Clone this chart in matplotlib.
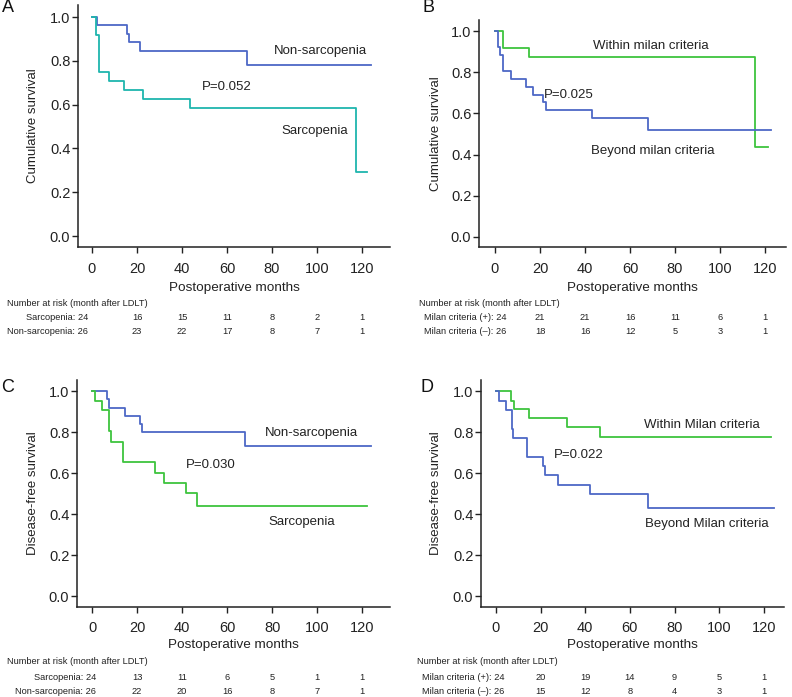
import matplotlib
matplotlib.use("Agg")
import matplotlib.pyplot as plt
import matplotlib.transforms as mtransforms

plt.rcParams["font.family"] = ["Liberation Sans", "DejaVu Sans"]

W, H = 792, 697

BLUE = "#4d68c6"
TEAL = "#1fb5ae"
GREEN = "#3ec43e"

# Kaplan-Meier step curves, (month, survival)
a_non_t = [0, 2.1, 15.4, 16.6, 21.3, 68.7, 123.9]
a_non_s = [1.0, 0.962, 0.923, 0.885, 0.846, 0.782, 0.782]
a_sar_t = [0, 1.6, 3.3, 7.7, 14.2, 22.8, 43.6, 117.2, 122.4]
a_sar_s = [1.0, 0.917, 0.75, 0.708, 0.667, 0.625, 0.583, 0.292, 0.292]

b_within_t = [0, 3.4, 15.3, 115.7, 121.2]
b_within_s = [1.0, 0.917, 0.875, 0.438, 0.438]
b_beyond_t = [0, 1.3, 2.2, 3.4, 7.1, 13.8, 16.7, 21.2, 22.7, 43.0, 68.1, 122.7]
b_beyond_s = [1.0, 0.923, 0.885, 0.808, 0.769, 0.731, 0.692, 0.654, 0.615, 0.577, 0.52, 0.52]

c_non_t = [0, 6.5, 7.4, 14.8, 21.3, 22.2, 68.0, 123.9]
c_non_s = [1.0, 0.96, 0.92, 0.88, 0.84, 0.80, 0.733, 0.733]
c_sar_t = [0, 1.3, 4.3, 7.4, 8.3, 13.6, 28.0, 32.0, 41.6, 46.5, 122.4]
c_sar_s = [1.0, 0.955, 0.909, 0.808, 0.755, 0.653, 0.601, 0.552, 0.502, 0.442, 0.442]

d_within_t = [0, 6.6, 8.3, 14.9, 32.0, 46.5, 123.2]
d_within_s = [1.0, 0.955, 0.913, 0.870, 0.826, 0.779, 0.779]
d_beyond_t = [0, 1.2, 4.5, 7.2, 7.8, 13.7, 20.9, 22.1, 28.0, 42.0, 68.1, 124.4]
d_beyond_s = [1.0, 0.955, 0.909, 0.818, 0.773, 0.682, 0.636, 0.591, 0.545, 0.50, 0.433, 0.433]

# number at risk tables
risk_months = [20, 40, 60, 80, 100, 120]
a_risk = {"Sarcopenia: 24": [16, 15, 11, 8, 2, 1],
          "Non-sarcopenia: 26": [23, 22, 17, 8, 7, 1]}
b_risk = {"Milan criteria (+): 24": [21, 21, 16, 11, 6, 1],
          "Milan criteria (\u2013): 26": [18, 16, 12, 5, 3, 1]}
c_risk = {"Sarcopenia: 24": [13, 11, 6, 5, 1, 1],
          "Non-sarcopenia: 26": [22, 20, 16, 8, 7, 1]}
d_risk = {"Milan criteria (+): 24": [20, 19, 14, 9, 5, 1],
          "Milan criteria (\u2013): 26": [15, 12, 8, 4, 3, 1]}


def fx(x):
    return x / W


def fy(y):
    return 1 - y / H


def make_axes(fig, left, right, top, bottom, xlim):
    ax = fig.add_axes([fx(left), fy(bottom), fx(right - left), (bottom - top) / H])
    ax.set_xlim(*xlim)
    ax.set_ylim(-0.05, 1.055)
    for s in ["top", "right"]:
        ax.spines[s].set_visible(False)
    for s in ["left", "bottom"]:
        ax.spines[s].set_linewidth(1.1)
        ax.spines[s].set_color("#222222")
    ax.set_xticks([0, 20, 40, 60, 80, 100, 120])
    ax.set_yticks([0.0, 0.2, 0.4, 0.6, 0.8, 1.0])
    ax.set_yticklabels(["0.0", "0.2", "0.4", "0.6", "0.8", "1.0"])
    ax.tick_params(axis="x", length=4.5, width=1, pad=6, labelsize=10.5, colors="#222222")
    ax.tick_params(axis="y", length=4, width=1, pad=1.5, labelsize=10.5, colors="#222222")
    return ax


def draw_panel(fig, ax, curves, labels, ylabel, letter, letter_xy, ylabel_x,
               xlabel_y, risk, risk_xy, row_align):
    for t, s, c in curves:
        ax.step(t, s, where="post", color=c, lw=1.3)
    for txt, x, y in labels:
        ax.text(x, y, txt, ha="center", va="center", fontsize=9.5, color="#222222")

    pos = ax.get_position()
    fig.text(fx(ylabel_x), (pos.y0 + pos.y1) / 2, ylabel, rotation=90,
             ha="center", va="center", fontsize=9.5, color="#222222")
    fig.text((pos.x0 + pos.x1) / 2, fy(xlabel_y), "Postoperative months",
             ha="center", va="center", fontsize=9.7, color="#222222")
    fig.text(fx(letter_xy[0]), fy(letter_xy[1]), letter, ha="center", va="center",
             fontsize=13, color="#111111")

    hx, hy, row_x, row_y0, row_dy = risk_xy
    fig.text(fx(hx), fy(hy), "Number at risk (month after LDLT)", ha="left",
             va="center", fontsize=6.7, color="#222222")
    trans = mtransforms.blended_transform_factory(ax.transData, fig.transFigure)
    for i, (name, vals) in enumerate(risk.items()):
        y = fy(row_y0 + i * row_dy)
        fig.text(fx(row_x), y, name, ha=row_align, va="center", fontsize=6.7,
                 color="#222222")
        for m, v in zip(risk_months, vals):
            ax.text(m, y, str(v), transform=trans, ha="center", va="center",
                    fontsize=6.7, color="#222222", clip_on=False)


fig = plt.figure(figsize=(W / 100, H / 100), dpi=100)

ax_a = make_axes(fig, 78, 390, 5, 247, (-6.2, 132.4))
draw_panel(fig, ax_a,
           [(a_non_t, a_non_s, BLUE), (a_sar_t, a_sar_s, TEAL)],
           [("Non-sarcopenia", 101.3, 0.847), ("P=0.052", 60, 0.68),
            ("Sarcopenia", 99, 0.48)],
           "Cumulative survival", "A", (8, 7), 33, 288,
           a_risk, (7, 303, 88, 317, 14.5), "right")

ax_b = make_axes(fig, 479, 786, 20, 247, (-7.1, 129.3))
draw_panel(fig, ax_b,
           [(b_within_t, b_within_s, GREEN), (b_beyond_t, b_beyond_s, BLUE)],
           [("Within milan criteria", 69.3, 0.927), ("P=0.025", 32.6, 0.691),
            ("Beyond milan criteria", 70, 0.418)],
           "Cumulative survival", "B", (428, 7), 436, 288,
           b_risk, (419, 303, 424, 317, 14.5), "left")

ax_c = make_axes(fig, 77, 390, 380, 606.7, (-6.7, 132.4))
draw_panel(fig, ax_c,
           [(c_non_t, c_non_s, BLUE), (c_sar_t, c_sar_s, GREEN)],
           [("Non-sarcopenia", 97.6, 0.795), ("P=0.030", 52.9, 0.641),
            ("Sarcopenia", 93.2, 0.362)],
           "Disease-free survival", "C", (8, 388), 33, 645,
           c_risk, (7, 662, 96, 677, 14), "right")

ax_d = make_axes(fig, 481, 784, 380, 606.7, (-6.7, 129))
draw_panel(fig, ax_d,
           [(d_within_t, d_within_s, GREEN), (d_beyond_t, d_beyond_s, BLUE)],
           [("Within Milan criteria", 92, 0.836), ("P=0.022", 37.3, 0.687),
            ("Beyond Milan criteria", 94.3, 0.354)],
           "Disease-free survival", "D", (427, 388), 436, 645,
           d_risk, (417, 662, 422, 677, 14), "left")

fig.savefig("out.png", dpi=100)
